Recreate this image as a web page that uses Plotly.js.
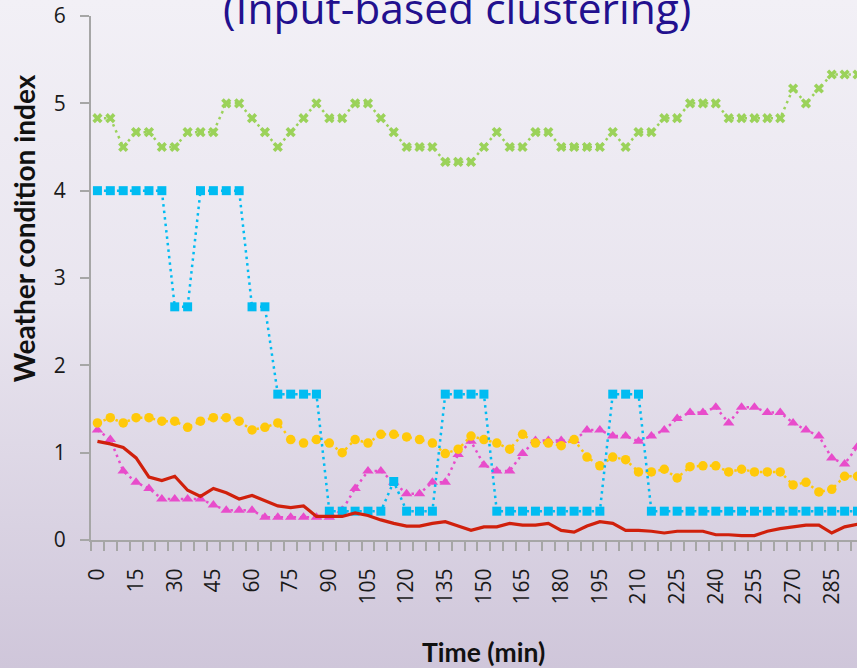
<!DOCTYPE html>
<html>
<head>
<meta charset="utf-8">
<script src="https://cdn.plot.ly/plotly-3.0.1.min.js"></script>
<style>
  html, body { margin: 0; padding: 0; overflow: hidden; }
  body { width: 857px; height: 668px; background: linear-gradient(to bottom, #f2f0f6 0%, #e9e5ef 45%, #cfc6da 100%); }
  #chart { width: 857px; height: 668px; }
</style>
</head>
<body>
<div id="chart"></div>
<script>
// Time (min)
const timeMin = [0,5,10,15,20,25,30,35,40,45,
  50,55,60,65,70,75,80,85,90,95,
  100,105,110,115,120,125,130,135,140,145,
  150,155,160,165,170,175,180,185,190,195,
  200,205,210,215,220,225,230,235,240,245,
  250,255,260,265,270,275,280,285,290,295];

const tickLabels = [0,15,30,45,60,75,90,105,120,135,150,165,180,195,210,225,240,255,270,285];

const greenSeries = [4.83,4.83,4.5,4.67,4.67,4.5,4.5,4.67,4.67,4.67,
  5.0,5.0,4.83,4.67,4.5,4.67,4.83,5.0,4.83,4.83,
  5.0,5.0,4.83,4.67,4.5,4.5,4.5,4.33,4.33,4.33,
  4.5,4.67,4.5,4.5,4.67,4.67,4.5,4.5,4.5,4.5,
  4.67,4.5,4.67,4.67,4.83,4.83,5.0,5.0,5.0,4.83,
  4.83,4.83,4.83,4.83,5.17,5.0,5.17,5.33,5.33,5.33];

const blueSeries = [4,4,4,4,4,4,2.67,2.67,4,4,
  4,4,2.67,2.67,1.67,1.67,1.67,1.67,0.33,0.33,
  0.33,0.33,0.33,0.67,0.33,0.33,0.33,1.67,1.67,1.67,
  1.67,0.33,0.33,0.33,0.33,0.33,0.33,0.33,0.33,0.33,
  1.67,1.67,1.67,0.33,0.33,0.33,0.33,0.33,0.33,0.33,
  0.33,0.33,0.33,0.33,0.33,0.33,0.33,0.33,0.33,0.33];

const pinkSeries = [1.26,1.15,0.79,0.66,0.59,0.47,0.47,0.47,0.47,0.40,
  0.34,0.34,0.34,0.26,0.26,0.26,0.26,0.26,0.26,0.34,
  0.59,0.79,0.79,0.66,0.53,0.53,0.66,0.66,0.98,1.13,
  0.86,0.79,0.79,0.99,1.14,1.14,1.14,1.14,1.26,1.26,
  1.19,1.19,1.13,1.19,1.26,1.39,1.46,1.46,1.52,1.34,
  1.52,1.52,1.46,1.46,1.34,1.26,1.19,0.94,0.87,1.07];

const yellowSeries = [1.34,1.40,1.34,1.40,1.40,1.36,1.36,1.29,1.36,1.40,
  1.40,1.36,1.26,1.29,1.34,1.15,1.11,1.15,1.11,1.00,
  1.15,1.11,1.21,1.21,1.18,1.15,1.11,0.99,1.04,1.19,
  1.15,1.11,1.04,1.21,1.11,1.11,1.08,1.15,0.95,0.85,
  0.95,0.92,0.78,0.78,0.81,0.71,0.84,0.85,0.85,0.78,
  0.81,0.78,0.78,0.78,0.63,0.66,0.55,0.58,0.73,0.73];

const redSeries = [1.13,1.10,1.06,0.94,0.72,0.68,0.73,0.57,0.50,0.59,
  0.54,0.47,0.51,0.45,0.39,0.37,0.39,0.27,0.27,0.27,
  0.31,0.28,0.23,0.19,0.16,0.16,0.19,0.21,0.16,0.11,
  0.15,0.15,0.19,0.17,0.17,0.19,0.11,0.09,0.16,0.21,
  0.19,0.11,0.11,0.10,0.08,0.10,0.10,0.10,0.06,0.06,
  0.05,0.05,0.10,0.13,0.15,0.17,0.17,0.08,0.15,0.18];

const dotted = (color) => ({ color: color, width: 2.5, dash: '2.5px,4px' });

const traces = [
  { x: timeMin, y: pinkSeries, mode: 'lines+markers', line: dotted('#e84ccb'),
    marker: { symbol: 'triangle-up', size: 10, color: '#e84ccb' } },
  { x: timeMin, y: yellowSeries, mode: 'lines+markers', line: dotted('#ffc90a'),
    marker: { symbol: 'circle', size: 9.5, color: '#ffc90a' } },
  { x: timeMin, y: blueSeries, mode: 'lines+markers', line: dotted('#00bcf2'),
    marker: { symbol: 'square', size: 9, color: '#00bcf2' } },
  { x: timeMin, y: redSeries, mode: 'lines', line: { color: '#d0200c', width: 3.2 } },
  { x: timeMin, y: greenSeries, mode: 'lines+markers', line: dotted('#9bd25a'),
    marker: { symbol: 'x', size: 9, color: '#9bd25a' } }
];

const axisGray = '#a6a6a6';

const layout = {
  width: 857, height: 668,
  margin: { l: 91, r: 0, t: 16, b: 128 },
  paper_bgcolor: 'rgba(0,0,0,0)',
  plot_bgcolor: 'rgba(0,0,0,0)',
  showlegend: false,
  xaxis: {
    range: [-2.5, 294.8],
    tickmode: 'array', tickvals: tickLabels, ticktext: tickLabels.map(String),
    ticks: 'outside', ticklen: 18, tickcolor: 'rgba(0,0,0,0)',
    tickangle: -90,
    tickfont: { family: 'Open Sans', size: 21, color: '#1a1a1a' },
    showline: true, linecolor: axisGray, linewidth: 2,
    showgrid: false, zeroline: false,
    minor: { tick0: -2.5, dtick: 5, ticks: 'outside', ticklen: 9, tickwidth: 2, tickcolor: axisGray, showgrid: false }
  },
  yaxis: {
    range: [0, 6], dtick: 1, tick0: 0,
    ticks: 'outside', ticklen: 9, tickwidth: 2, tickcolor: axisGray,
    ticklabelstandoff: 10,
    tickfont: { family: 'Open Sans', size: 21, color: '#1a1a1a' },
    showline: true, linecolor: axisGray, linewidth: 2,
    showgrid: false, zeroline: false
  },
  annotations: [
    { text: '(Input-based clustering)', xref: 'paper', yref: 'paper',
      x: 0.478, y: 1.017, xanchor: 'center', yanchor: 'middle', showarrow: false,
      font: { family: 'Open Sans', size: 42.5, color: '#22108e' } },
    { text: '<b>Weather condition index</b>', xref: 'paper', yref: 'paper',
      x: -0.0875, y: 0.595, xanchor: 'center', yanchor: 'middle', textangle: -90, showarrow: false,
      font: { family: 'Lato', size: 28, color: '#111111' } },
    { text: '<b>Time (min)</b>', xref: 'paper', yref: 'paper',
      x: 0.512, y: -0.214, xanchor: 'center', yanchor: 'middle', showarrow: false,
      font: { family: 'Lato', size: 26.5, color: '#111111' } }
  ]
};

Plotly.newPlot('chart', traces, layout, { displayModeBar: false, staticPlot: true });
</script>
</body>
</html>
